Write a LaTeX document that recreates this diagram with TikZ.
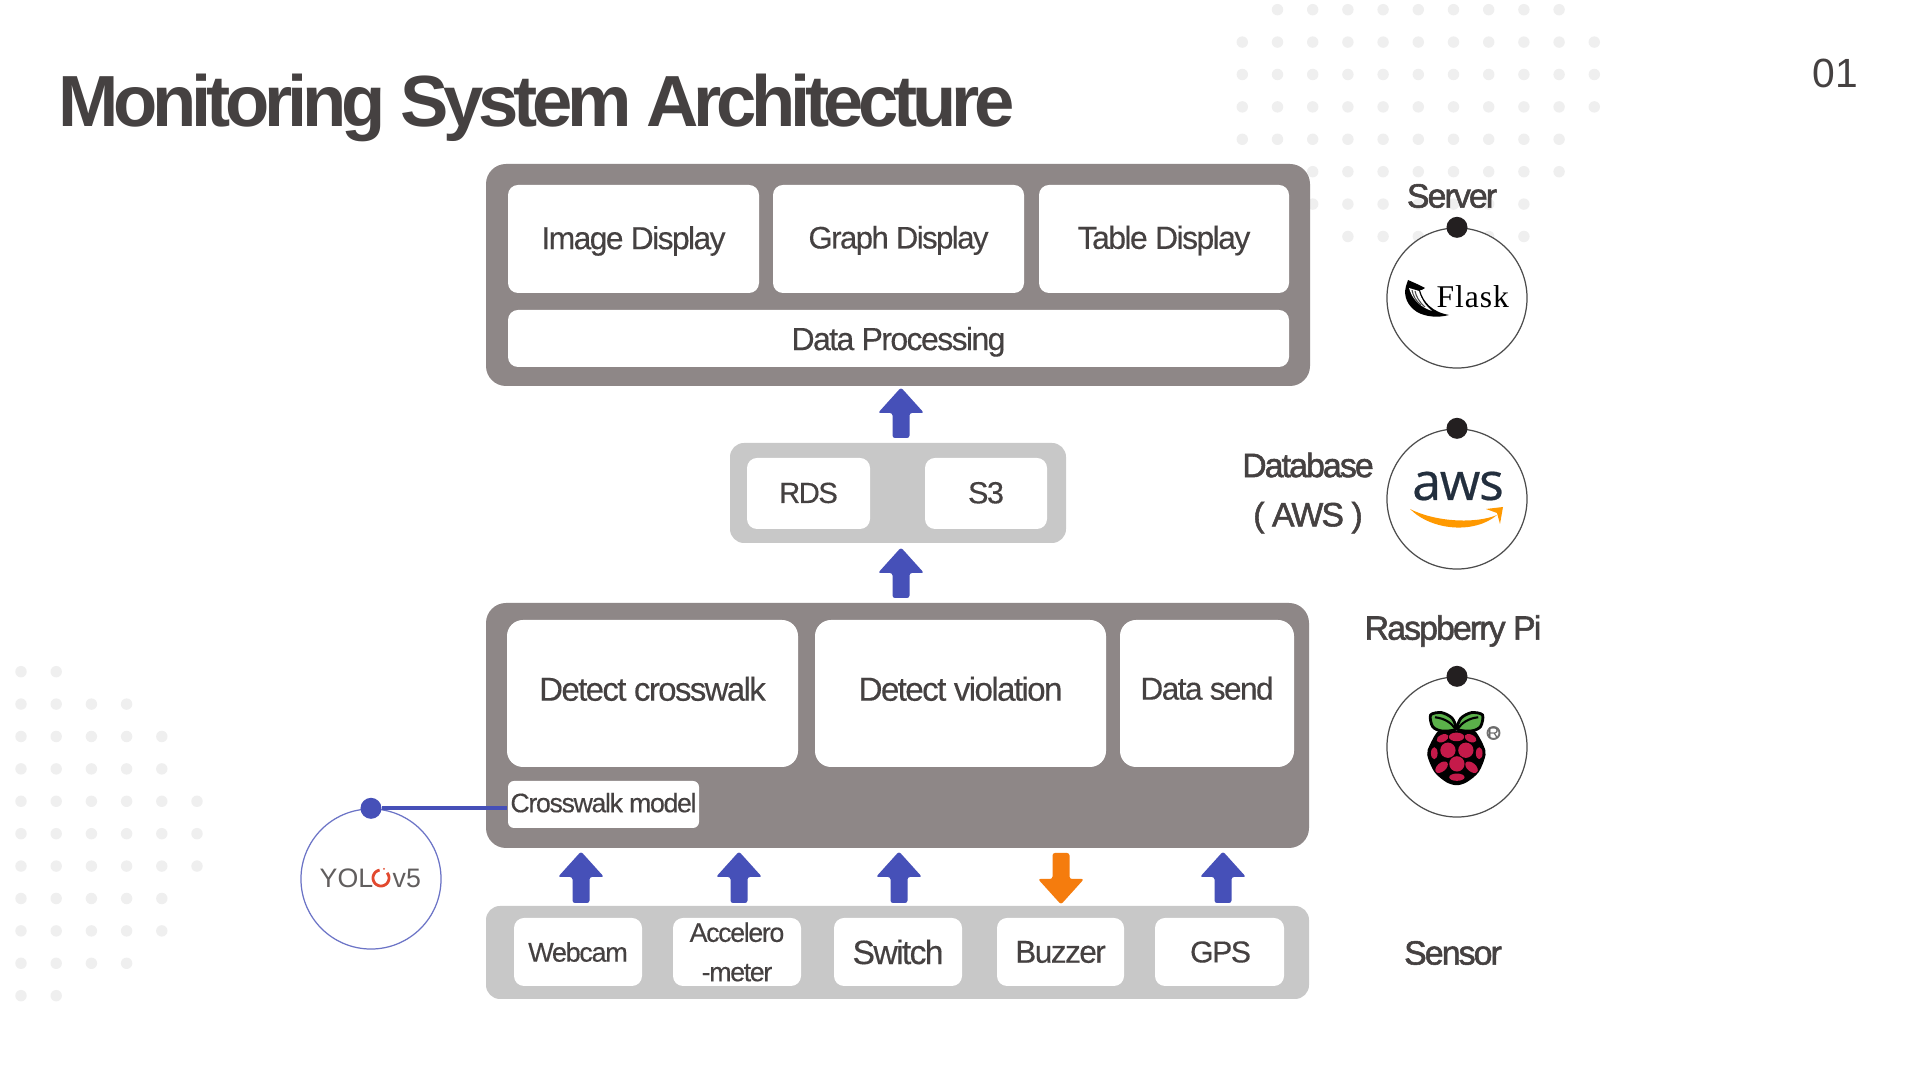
\documentclass[tikz,border=0pt]{standalone}
\usepackage{fontspec}
\setmainfont{Liberation Sans}
\newfontfamily\bodyf[LetterSpace=-5,FakeBold=0.3]{Liberation Sans}
\newfontfamily\labf[LetterSpace=-5.5,FakeBold=1.6]{Liberation Sans}
\newfontfamily\titlef[LetterSpace=-7.3]{Liberation Sans Bold}
\newfontfamily\plainf{Liberation Sans}
\newfontfamily\flaskf[LetterSpace=3]{Liberation Serif}
\newfontfamily\awsf[LetterSpace=-2.5,FakeBold=0.4]{Open Sans}
\newfontfamily\yolof{Liberation Sans}
\definecolor{darkbox}{HTML}{8E8787}
\definecolor{lightbox}{HTML}{C8C8C8}
\definecolor{inkc}{HTML}{454141}
\definecolor{arrowb}{HTML}{4650B8}
\definecolor{arrowo}{HTML}{F57C0D}
\definecolor{dotc}{HTML}{EFEFEF}
\definecolor{berry}{HTML}{C51A4A}
\definecolor{leaf}{HTML}{5BB04A}
\definecolor{awsink}{HTML}{232F3E}
\definecolor{awsorange}{HTML}{FF9900}
\definecolor{dotblack}{HTML}{231F20}
\definecolor{yring}{HTML}{E2492F}
\tikzset{
  panel/.style={draw=none,inner sep=0pt,rounded corners=2.0mm,text=inkc},
  inbox/.style={draw=none,fill=white,inner sep=0pt,rounded corners=1.0mm,text=inkc,align=center},
  ring/.style={draw=#1,line width=0.35pt,fill=white,circle,inner sep=0pt,minimum size=1.40cm},
  hub/.style={fill=#1,circle,inner sep=0pt,minimum size=0.21cm},
  lab/.style={text=inkc,inner sep=0pt,align=center},
  bgdot/.style={fill=dotc,draw=none}
}
% box from x0,y0 to x1,y1 in reference pixels
\newcommand{\pbox}[7]{\node[#6,minimum width={(#4-#2)*0.01cm},minimum height={(#5-#3)*0.01cm}]
  (#1) at ({(#2+#4)/2},{(#3+#5)/2}) {#7};}
\newcommand{\uparr}[4][arrowb]{\fill[#1,rounded corners=0.25mm] (#2,#3-1.5) -- (#2+23,#3+24) -- (#2+8.5,#3+24) -- (#2+8.5,#4) -- (#2-8.5,#4) -- (#2-8.5,#3+24) -- (#2-23,#3+24) -- cycle;}
\newcommand{\dnarr}[4][arrowo]{\fill[#1,rounded corners=0.25mm] (#2,#3+1.5) -- (#2+23,#3-24) -- (#2+8.5,#3-24) -- (#2+8.5,#4) -- (#2-8.5,#4) -- (#2-8.5,#3-24) -- (#2-23,#3-24) -- cycle;}
\newcommand{\fs}[2]{\fontsize{#1pt}{#2pt}\selectfont}
% text whose baseline lies #1 from the centre of its box
\newcommand{\rtxt}[3]{\raisebox{#1}[0pt][0pt]{\bodyf\fs{#2}{11}#3}}
\begin{document}
\begin{tikzpicture}[x=0.01cm,y=-0.01cm]
\useasboundingbox (0,0) rectangle (1920,1080);
\fill[white] (0,0) rectangle (1920,1080);
% background dots, top right
\foreach \j/\a/\b in {0/1/9,1/0/10,2/0/10,3/0/10,4/0/9,5/2/9,6/2/8,7/3/8}{
  \foreach \i in {\a,...,\b}{
    \fill[bgdot] ({1242.3+35.2*\i},{9.7+32.4*\j}) circle (5.7);
  }
}
% background dots, left
\foreach \j/\b in {0/1,1/3,2/4,3/4,4/5,5/5,6/5,7/4,8/4,9/3,10/1}{
  \foreach \i in {0,...,\b}{
    \fill[bgdot] ({21+35.2*\i},{671.7+32.4*\j}) circle (5.7);
  }
}
% title and page number
\node[anchor=base west,inner sep=0pt,text=inkc] (title) at (58,127) {\titlef\fs{20.6}{24}Monitoring System Architecture};
\node[lab,text=inkc] (pageno) at (1835,73) {\plainf\fs{11.6}{14}01};
% server block
\pbox{top}{486}{164}{1310}{386}{panel,fill=darkbox}{}
\pbox{imgd}{508}{185}{759}{293}{inbox}{\rtxt{-2.9pt}{9.05}{Image Display}}
\pbox{grpd}{773}{185}{1024}{293}{inbox}{\rtxt{-2.7pt}{8.85}{Graph Display}}
\pbox{tabd}{1039}{185}{1289}{293}{inbox}{\rtxt{-2.8pt}{9.1}{Table Display}}
\pbox{proc}{508}{310}{1289}{367}{inbox}{\rtxt{-3.3pt}{9.1}{Data Processing}}
% database block
\pbox{db}{730}{443}{1066}{543}{panel,fill=lightbox,rounded corners=1.4mm}{}
\pbox{rds}{747}{458}{870}{529}{inbox}{\rtxt{-2.7pt}{8.3}{RDS}}
\pbox{sthree}{925}{458}{1047}{529}{inbox}{\rtxt{-2.8pt}{8.7}{S3}}
% pi block
\pbox{pi}{486}{603}{1309}{848}{panel,fill=darkbox}{}
\pbox{dcw}{507}{620}{798}{767}{inbox,rounded corners=1.6mm}{\rtxt{-2.05pt}{9.4}{Detect crosswalk}}
\pbox{dvi}{815}{620}{1106}{767}{inbox,rounded corners=1.6mm}{\rtxt{-2.05pt}{9.45}{Detect violation}}
\pbox{dsd}{1120}{620}{1294}{767}{inbox,rounded corners=1.6mm}{\rtxt{-1.75pt}{9}{Data send}}
\pbox{cwm}{508}{781}{699}{828}{inbox,rounded corners=0.6mm}{\rtxt{-2.2pt}{7.6}{Crosswalk model}}
% sensor block
\pbox{sens}{486}{906}{1309}{999}{panel,fill=lightbox,rounded corners=1.4mm}{}
\pbox{web}{514}{918}{642}{986}{inbox}{\bodyf\fs{7.7}{10}Webcam}
\pbox{acc}{673}{918}{801}{986}{inbox,font=\bodyf\fs{7.6}{11.2}}{Accelero\\-meter}
\pbox{swi}{834}{918}{962}{986}{inbox}{\bodyf\fs{9.6}{11}Switch}
\pbox{buz}{997}{918}{1124}{986}{inbox}{\bodyf\fs{9}{11}Buzzer}
\pbox{gps}{1155}{918}{1284}{986}{inbox}{\hspace*{0.6pt}\bodyf\fs{8.6}{11}GPS}
% block arrows
\uparr{901}{389}{438}
\uparr{901}{549}{598}
\uparr{581}{853}{903}
\uparr{739}{853}{903}
\uparr{899}{853}{903}
\dnarr{1061}{903}{853}
\uparr{1223}{853}{903}
% right column labels
\node[lab] (lserver) at (1452,196) {\labf\fs{9.6}{12}Server};
\node[lab,font=\labf\fs{9.6}{14}] (ldb) at (1308,493) {Database\\( AWS )};
\node[lab] (lpi) at (1453,631) {\labf\fs{9.6}{12}Raspberry Pi};
\node[lab] (lsensor) at (1453,953) {\labf\fs{9.6}{12}Sensor};
% server circle and flask logo
\node[ring=black!70] (cflask) at (1457,298) {};
\node[hub=dotblack] (hflask) at (cflask.north) {};
\node[anchor=west,inner sep=0pt,text=black] (flask) at (1436,297) {\flaskf\fs{9}{10}Flask};
\fill[black] (1406,286) -- (1408,280) -- (1417,284) -- (1425,288)
  .. controls (1423,290) and (1421,290) .. (1420,290)
  .. controls (1423,302) and (1432,312) .. (1449,315)
  .. controls (1438,318) and (1426,317) .. (1417,312)
  .. controls (1408,306) and (1403,297) .. (1406,286) -- cycle;
\fill[white] (1409,288) -- (1419,291) .. controls (1421,299) and (1425,305) .. (1432,311)
  .. controls (1420,307) and (1412,299) .. (1409,288) -- cycle;
\draw[black!70,line width=0.3pt] (1412,290) .. controls (1413,296) and (1416,301) .. (1421,305);
\draw[black!70,line width=0.3pt] (1415,291) .. controls (1416,296) and (1419,302) .. (1425,307);
% aws circle and logo
\node[ring=black!70] (caws) at (1457,499) {};
\node[hub=dotblack] (haws) at (caws.north) {};
\node[inner sep=0pt,text=awsink] (awst) at (1458,486) {\awsf\fs{14.8}{16}aws};
\fill[awsorange] (1410,509) .. controls (1432,531) and (1475,534) .. (1497,515)
  .. controls (1476,524) and (1435,522) .. (1410,509) -- cycle;
\fill[awsorange] (1486,509) -- (1503,507) -- (1500,524) -- (1497,513) -- cycle;
% raspberry pi circle and logo
\node[ring=black!70] (cpi) at (1457,747) {};
\node[hub=dotblack] (hpi) at (cpi.north) {};
\begin{scope}[shift={(1390,690)},x=0.00333cm,y=-0.00333cm]
  \filldraw[fill=black,draw=black] plot[smooth cycle] coordinates {(200,124) (150,122) (122,165) (114,195) (135,245) (170,275) (200,284) (230,275) (265,245) (285,195) (278,165) (250,122)};
  \foreach \sx/\cx in {1/0,-1/400}{
    \filldraw[fill=leaf,draw=black,line width=0.8pt] plot[smooth cycle] coordinates {({\cx+\sx*197},118) ({\cx+\sx*155},123) ({\cx+\sx*128},110) ({\cx+\sx*122},75) ({\cx+\sx*155},68) ({\cx+\sx*187},85)};
    \draw[black,line width=0.6pt] ({\cx+\sx*135},82) .. controls ({\cx+\sx*165},85) and ({\cx+\sx*185},100) .. ({\cx+\sx*195},115);
  }
  \fill[berry] (200,141) ellipse [x radius=23,y radius=13];
  \fill[berry,rotate around={25:(158,145)}] (158,145) ellipse [x radius=19,y radius=11];
  \fill[berry,rotate around={-25:(242,145)}] (242,145) ellipse [x radius=19,y radius=11];
  \fill[berry] (174,181) circle (23);
  \fill[berry] (228,181) circle (23);
  \fill[berry] (133,190) ellipse [x radius=10,y radius=18];
  \fill[berry] (268,190) ellipse [x radius=10,y radius=18];
  \fill[berry] (201,222) circle (23);
  \fill[berry,rotate around={40:(155,232)}] (155,232) ellipse [x radius=22,y radius=13];
  \fill[berry,rotate around={-40:(245,232)}] (245,232) ellipse [x radius=22,y radius=13];
  \fill[berry] (201,262) ellipse [x radius=23,y radius=11];
\end{scope}
\draw[black!55,line width=0.55pt] (1493.5,733) circle (6);
\node[inner sep=0pt,text=black!60] (regm) at (1493.5,733) {\yolof\fs{4.4}{5}R};
% yolo circle and logo, connector
\node[ring=arrowb!80] (cyolo) at (371,879) {};
\node[hub=arrowb] (hyolo) at (cyolo.north) {};
\draw[arrowb,line width=1.2pt] (hyolo) -- (hyolo -| cwm.west);
\node[anchor=base west,inner sep=0pt,text=inkc!85] (yl) at (319,888) {\yolof\fs{7.6}{9}YOL};
\draw[yring,line width=0.8pt] plot[domain=-40:260,samples=40] ({381+8*cos(\x)},{878+8*sin(\x)});
\fill[yring] (384,869) circle (1);
\node[anchor=base west,inner sep=0pt,text=inkc!85] (vf) at (392,888) {\yolof\fs{7.6}{9}v5};
\end{tikzpicture}
\end{document}
